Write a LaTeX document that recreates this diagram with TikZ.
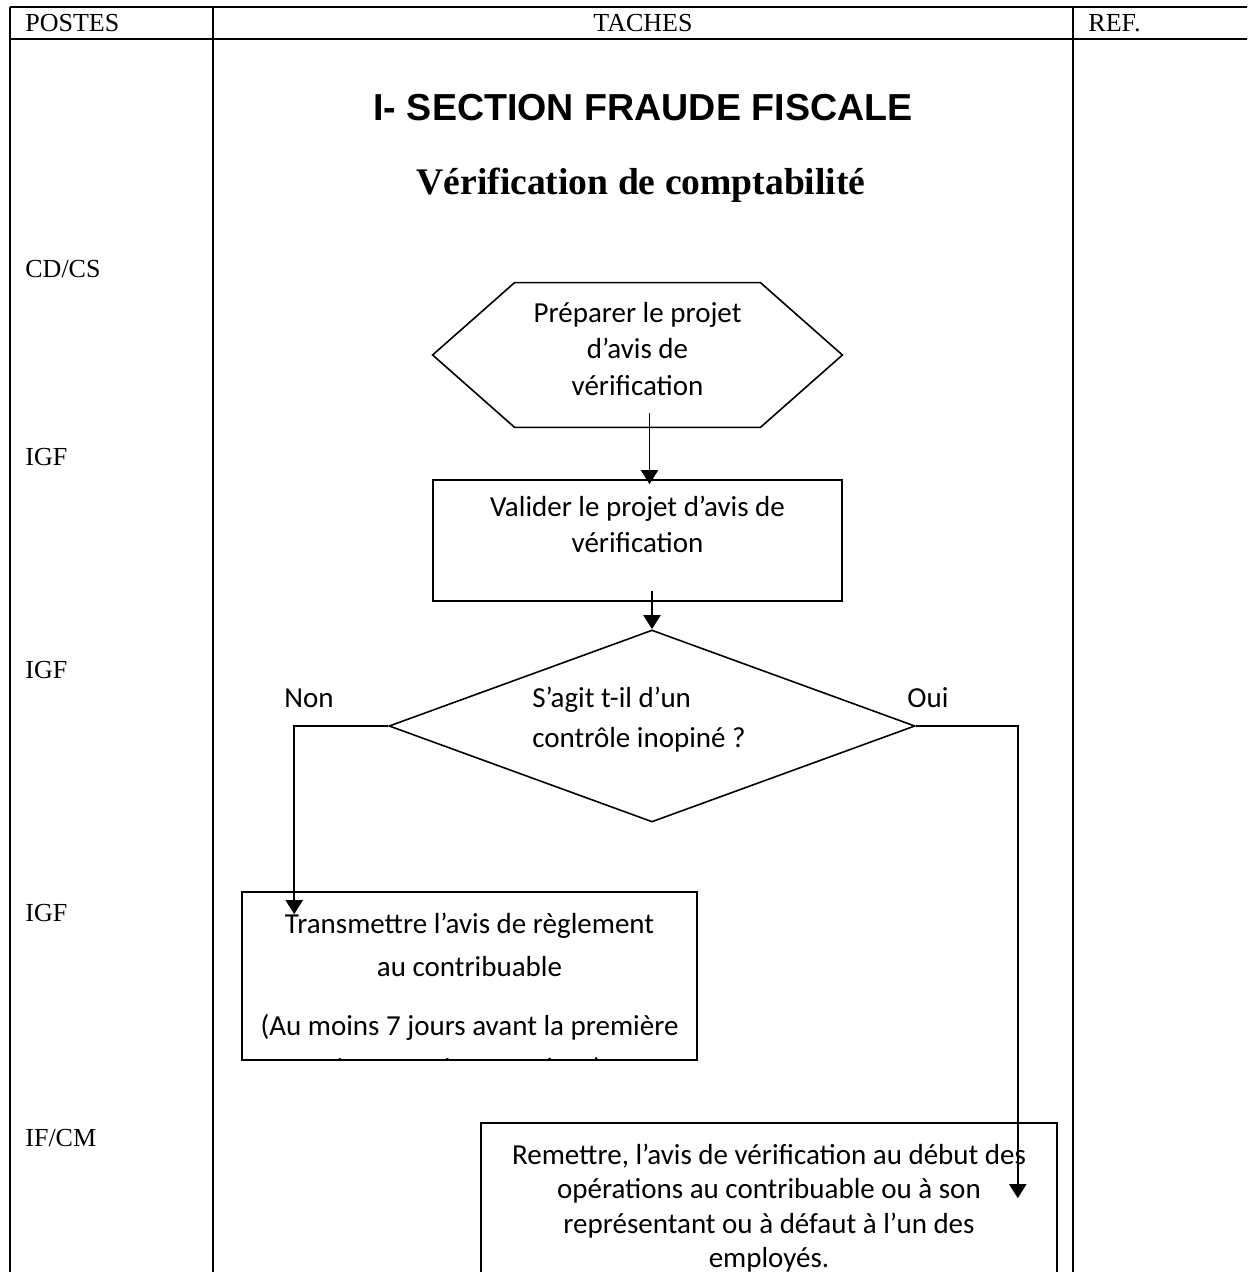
\documentclass[tikz,border=0pt]{standalone}
\usepackage{fontspec}
\setmainfont{Liberation Serif}
\newfontfamily\calibrif{Carlito}
\newfontfamily\arialf{Liberation Sans}
\usetikzlibrary{shapes.geometric,arrows.meta,positioning,calc}

\begin{document}
\begin{tikzpicture}[x=0.5pt,y=-0.5pt,
  tabline/.style={line width=1.1pt},
  entete/.style={anchor=base,inner sep=0pt,font=\fontsize{13}{15}\selectfont},
  poste/.style={anchor=base west,inner sep=0pt,font=\fontsize{13}{15}\selectfont},
  tache/.style={draw,rectangle,line width=0.8pt,inner sep=0pt},
  txt/.style={font=\calibrif\fontsize{14.5}{18.3}\selectfont,align=center,inner sep=0pt},
  fleche/.style={line width=0.9pt,-{Triangle[width=8.5pt,length=7pt]}},
]
\useasboundingbox (0,0) rectangle (1247,1272);
\clip (0,0) rectangle (1247,1272);
\fill[white] (0,0) rectangle (1247,1272);

\draw[tabline] (10,7) -- (1260,7);
\draw[tabline] (10,39) -- (1260,39);
\draw[tabline] (10,7) -- (10,1290);
\draw[tabline] (213,7) -- (213,1290);
\draw[tabline] (1073,7) -- (1073,1290);

\node[entete,anchor=base west] (postes) at (25,32) {POSTES};
\node[entete] (taches) at (643,32) {TACHES};
\node[entete,anchor=base west] (ref) at (1088,32) {REF.};

\node[font=\arialf\bfseries\fontsize{18.8}{22}\selectfont] (section) at (643,108) {I- SECTION FRAUDE FISCALE};
\node[font=\bfseries\fontsize{18.8}{22}\selectfont] (titre) at (641,185) {Vérification de comptabilité};

\node[poste] (p1) at (25,278) {CD/CS};
\node[poste] (p2) at (25,466) {IGF};
\node[poste] (p3) at (25,678) {IGF};
\node[poste] (p4) at (25,921) {IGF};
\node[poste] (p5) at (25,1146) {IF/CM};

\node[minimum width=204.5pt,minimum height=72pt,inner sep=0pt] (prep) at (637.5,355) {};
\draw[line width=0.8pt] (prep.west) -- ([xshift=41pt]prep.north west) -- ([xshift=-41pt]prep.north east)
  -- (prep.east) -- ([xshift=-41pt]prep.south east) -- ([xshift=41pt]prep.south west) -- cycle;
\node[txt] (preptxt) at ([yshift=3pt]prep.center) {Préparer le projet\\d’avis de\\vérification};

\node[tache,minimum width=204.5pt,minimum height=60.5pt] (valid) at (637.5,540.5) {};
\node[txt,below=8pt of valid.north] (validtxt) {Valider le projet d’avis de\\vérification};

\node[draw,diamond,aspect=2.74,line width=0.8pt,inner sep=0pt,minimum width=263pt,minimum height=96pt] (quest) at (652,726) {};
\node[txt,align=left,anchor=west,font=\calibrif\fontsize{14.5}{20}\selectfont] (questtxt)
  at ($(quest.center)+(-120,-6)$) {S’agit t-il d’un\\contrôle inopiné ?};
\node[txt,anchor=base] (non) at (309,707) {Non};
\node[txt,anchor=base] (oui) at (928,707) {Oui};

\node[tache,minimum width=227.5pt,minimum height=84pt] (transm) at (469.5,976) {};
\begin{scope}
\clip (transm.north west) rectangle (transm.south east);
\node[txt,font=\calibrif\fontsize{14.5}{21.5}\selectfont,below=10.5pt of transm.north] (transmtxt)
  {Transmettre l’avis de règlement\\au contribuable\\[8pt](Au moins 7 jours avant la première\\intervention sur place)};
\end{scope}

\node[tache,minimum width=288pt,minimum height=100pt] (remet) at (769,1223) {};
\node[txt,font=\calibrif\fontsize{14.5}{17.25}\selectfont,below=10.5pt of remet.north] (remettxt)
  {Remettre, l’avis de vérification au début des\\opérations au contribuable ou à son\\représentant ou à défaut à l’un des\\employés.};

\draw[fleche] ([xshift=6pt,yshift=7pt]prep.south) -- ([xshift=6pt,yshift=-2.5pt]valid.north);
\draw[fleche] ($(valid.south -| quest.north)+(0,-11)$) -- (quest.north);
\draw[fleche] (quest.west) -| ([xshift=26.5pt,yshift=-11.5pt]transm.north west);
\draw[fleche] (quest.east) -| ([xshift=-20pt,yshift=-38pt]remet.north east);
\end{tikzpicture}
\end{document}
